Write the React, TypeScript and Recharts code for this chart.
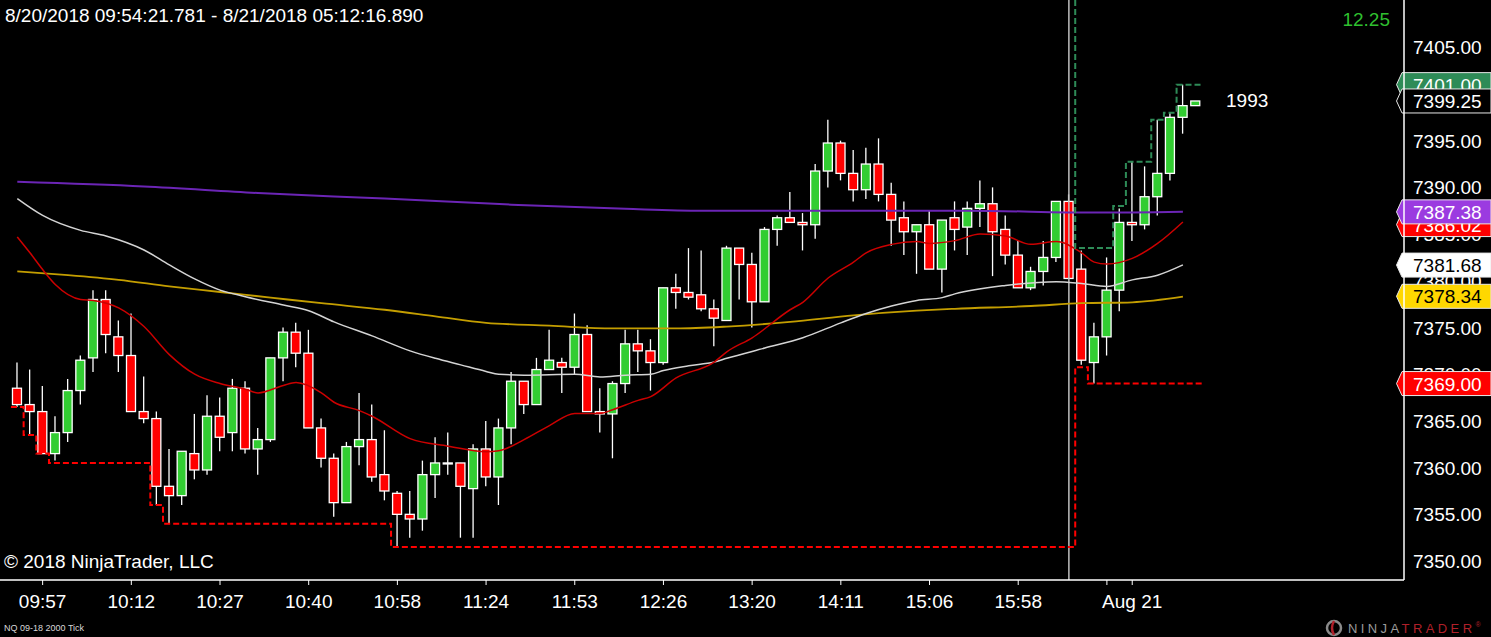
import React from "react";
import {
  ComposedChart,
  Bar,
  Line,
  XAxis,
  YAxis,
  ReferenceLine,
} from "recharts";

// NQ 09-18, 2000 tick bars — OHLC
const opens = [
  7368.5, 7366.75, 7366, 7361.5, 7363.75, 7368.25, 7371.75, 7378, 7374, 7372,
  7366, 7365.25, 7358, 7357, 7361.5, 7359.75, 7365.5, 7363.75, 7368.5, 7362,
  7363, 7371.75, 7374.5, 7372.25, 7364.25, 7361, 7356.25, 7362.25, 7363, 7359.25,
  7357.25, 7355, 7354.5, 7359.25, 7360.5, 7360.5, 7357.75, 7362, 7359, 7364.25,
  7369.25, 7366.75, 7370.5, 7371.25, 7370.75, 7374.25, 7366, 7365.75, 7369, 7373.25,
  7372.5, 7371.25, 7379.25, 7378.75, 7378.5, 7377, 7375.75, 7383.5, 7381.75, 7377.75,
  7385.5, 7386.75, 7386.25, 7386, 7391.75, 7394.75, 7391.5, 7389.75, 7392.5, 7389.25,
  7386.75, 7385.25, 7386, 7381.25, 7386.75, 7385.75, 7387.75, 7388.25, 7385.5, 7382.75,
  7379.25, 7381, 7382.5, 7388.5, 7381.25, 7371.25, 7374, 7379, 7386.25, 7386,
  7389, 7391.5, 7397.5, 7398.75,
];
const highs = [
  7371.25, 7370.5, 7368.75, 7365.5, 7369.5, 7372, 7379, 7379, 7375.75, 7376.5,
  7369.75, 7366, 7362, 7361.75, 7365.75, 7367.75, 7367.5, 7369.5, 7369.25, 7364.25,
  7371.75, 7375, 7375.5, 7374.75, 7365.25, 7361.5, 7362.75, 7368, 7366.75, 7364,
  7357.5, 7357.5, 7360.75, 7363.25, 7363.75, 7360.5, 7362.5, 7365, 7365.25, 7370.25,
  7369.25, 7371.75, 7374.75, 7371.75, 7376.5, 7375.25, 7368.5, 7369.25, 7374.75, 7374.75,
  7373.75, 7379.25, 7380.75, 7383.5, 7383.25, 7378, 7383.75, 7383.5, 7383, 7385.75,
  7387, 7389.5, 7387.25, 7392.5, 7397.25, 7395, 7394, 7394.25, 7395.25, 7390.5,
  7388.5, 7386, 7387.5, 7386.5, 7388.5, 7388.5, 7390.75, 7390, 7387, 7384.25,
  7381.5, 7384.25, 7388.5, 7389.25, 7383.25, 7375.5, 7382.5, 7387.75, 7392.75, 7392.25,
  7397.25, 7398, 7401, 7399.25,
];
const lows = [
  7366.5, 7363.5, 7361.5, 7360.75, 7362.75, 7366.75, 7370.25, 7372.25, 7370.25, 7366,
  7364.75, 7356, 7354, 7356, 7358.75, 7359.25, 7361.75, 7361.75, 7361.5, 7359.25,
  7362.75, 7369.25, 7370.75, 7364.25, 7360, 7354.75, 7356.25, 7360.25, 7358.5, 7356.5,
  7351.5, 7352.5, 7353.25, 7356.75, 7359.25, 7352.5, 7352.5, 7358, 7356, 7362.5,
  7365.75, 7366.75, 7370.5, 7368, 7370, 7366, 7363.75, 7361, 7368, 7370.25,
  7368.25, 7371, 7377, 7378, 7376.75, 7373, 7375.75, 7378, 7375, 7377.75,
  7383.75, 7386.25, 7383.25, 7384.5, 7390, 7390.75, 7388.5, 7388.75, 7388.5, 7383.75,
  7382.75, 7380.75, 7381.25, 7378.75, 7383.25, 7382.75, 7385.75, 7380.5, 7381.75, 7379.25,
  7379, 7379.5, 7382, 7380.25, 7371, 7369, 7372, 7376.75, 7384.25, 7385.5,
  7387, 7390.75, 7395.75, 7398.75,
];
const closes = [
  7366.75, 7366, 7361.5, 7363.75, 7368.25, 7371.5, 7378, 7374.25, 7372, 7366,
  7365.25, 7358, 7357, 7361.75, 7359.75, 7365.5, 7363.25, 7368.5, 7362, 7363,
  7371.75, 7374.5, 7372.25, 7364.25, 7361, 7356.25, 7362.25, 7363, 7359, 7357.5,
  7355, 7354.5, 7359.25, 7360.5, 7360.5, 7358, 7362, 7359, 7364.25, 7369.25,
  7366.75, 7370.5, 7371.5, 7370.75, 7374.25, 7366, 7365.75, 7369, 7373.25, 7372.5,
  7371.25, 7379.25, 7378.75, 7378.25, 7377, 7376, 7383.5, 7381.75, 7377.75, 7385.5,
  7386.75, 7386.25, 7386, 7391.75, 7394.75, 7391.5, 7389.75, 7392.5, 7389.25, 7386.5,
  7385.25, 7386, 7381.25, 7386.5, 7385.5, 7387.75, 7388.25, 7385.25, 7382.75, 7379.25,
  7381, 7382.5, 7388.5, 7380.25, 7371.5, 7374, 7379, 7386.25, 7386, 7389,
  7391.5, 7397.5, 7398.75, 7399.25,
];

// x-axis labels (bar index -> time)
const xTickIdx = [2, 9, 16, 23, 30, 37, 44, 51, 58, 65, 72, 79, 86, 88];
const xTickLabels = [
  "09:57", "10:12", "10:27", "10:40", "10:58", "11:24", "11:53",
  "12:26", "13:20", "14:11", "15:06", "15:58", "", "Aug 21",
];
const yTicks = [7350, 7355, 7360, 7365, 7370, 7375, 7380, 7385, 7390, 7395, 7400, 7405];

// moving averages, sampled at bar indices
const purpleIdx = [0, 10, 19, 29, 39, 48, 54, 64, 75, 85, 92];
const purpleVal = [7390.6, 7390.1, 7389.4, 7388.8, 7388.15, 7387.7, 7387.5, 7387.5, 7387.5, 7387.3, 7387.4];

const whiteIdx = [0, 2, 5, 7, 10, 12, 14, 16, 18, 21, 23, 25, 28, 31, 33, 35, 37, 38, 40, 44, 46, 48, 50, 51, 53, 55, 56, 59, 62, 65, 67, 69, 71, 73, 74, 78, 82, 84, 86, 88, 90, 92];
const whiteVal = [
  7388.8, 7387.0, 7385.4, 7384.8, 7383.3, 7381.7, 7380.2, 7379.0, 7378.3, 7377.4,
  7376.8, 7375.6, 7374.1, 7372.5, 7371.7, 7371.0, 7370.3, 7370.0, 7369.9, 7370.0,
  7369.7, 7369.9, 7370.0, 7370.4, 7370.9, 7371.3, 7371.7, 7372.8, 7373.9, 7375.5,
  7376.5, 7377.3, 7377.9, 7378.2, 7378.6, 7379.5, 7379.9, 7379.7, 7379.4, 7380.1,
  7380.6, 7381.7,
];

const redIdx = [0, 1, 2, 3, 5, 6, 8, 10, 12, 14, 16, 18, 19, 21, 22, 24, 25, 27, 28, 31, 34, 37, 38, 40, 42, 44, 46, 47, 49, 50, 52, 55, 56, 58, 61, 62, 64, 66, 67, 69, 71, 72, 74, 76, 78, 80, 82, 84, 85, 86, 88, 90, 92];
const redVal = [
  7384.7, 7383.0, 7381.2, 7379.6, 7378.0, 7377.9, 7377.1, 7375.1, 7372.1, 7370.0,
  7369.0, 7368.4, 7368.0, 7368.8, 7369.1, 7368.0, 7367.0, 7366.1, 7365.5, 7363.1,
  7362.3, 7361.7, 7361.8, 7363.0, 7364.5, 7365.8, 7365.8, 7366.2, 7367.2, 7367.6,
  7369.6, 7371.3, 7372.4, 7373.9, 7376.9, 7377.7, 7380.3, 7382.0, 7383.0, 7383.9,
  7384.2, 7384.0, 7384.3, 7385.0, 7384.8, 7383.9, 7384.2, 7383.0, 7382.0, 7381.8,
  7382.4, 7384.0, 7386.3,
];

const yellowIdx = [0, 4, 8, 12, 16, 20, 24, 29, 33, 37, 42, 47, 52, 56, 61, 66, 71, 74, 80, 84, 88, 92];
const yellowVal = [
  7381.0, 7380.6, 7380.1, 7379.4, 7378.8, 7378.2, 7377.6, 7376.9, 7376.2, 7375.5,
  7375.2, 7374.9, 7374.9, 7375.1, 7375.6, 7376.3, 7376.8, 7377.0, 7377.3, 7377.6,
  7377.7, 7378.3,
];

// trailing stops: bar index where each level starts
const redStopStart = [0, 1, 2, 3, 11, 12, 30, 84, 85];
const redStopLevel = [7366.5, 7363.5, 7361.5, 7360.5, 7356, 7354, 7351.5, 7370.75, 7369];
const greenStopStart = [84, 84, 87, 88, 90, 91, 92];
const greenStopLevel = [7412, 7383.5, 7388, 7392.75, 7397.25, 7398, 7401];

// price flags on the right axis
const flagValues = [7401, 7399.25, 7386.02, 7387.38, 7381.68, 7378.34, 7369];
const flagFills = ["#2e8b57", "#000000", "#ff0000", "#9b3be0", "#ffffff", "#ffd700", "#ff0000"];
const flagText = ["#ffffff", "#ffffff", "#ffffff", "#ffffff", "#000000", "#000000", "#ffffff"];

const W = 1491;
const H = 637;
const FONT = "Arial, 'Liberation Sans', sans-serif";
const GREEN = "#32cd32";
const RED = "#ff0000";

const candles = opens.map((o, i) => ({ i, o, h: highs[i], l: lows[i], c: closes[i] }));
const lastBar = opens.length - 1;
const toPts = (idx: number[], vals: number[]) => idx.map((i, k) => ({ i, v: vals[k] }));
const stepPts = (starts: number[], levels: number[]) => [
  ...starts.map((s, k) => ({ i: s - 0.5, v: levels[k] })),
  { i: lastBar + 0.5, v: levels[levels.length - 1] },
];

function Candle(props: any) {
  const { x, y, width, height, payload } = props;
  if (x == null || y == null || !payload) return null;
  const { o, h, l, c } = payload;
  const top = Math.min(y, y + height);
  const ratio = Math.abs(height) / (h - l);
  const py = (v: number) => top + (h - v) * ratio;
  const cx = x + width / 2;
  const bodyTop = py(Math.max(o, c));
  const bodyH = Math.max(py(Math.min(o, c)) - bodyTop, 1);
  const fill = o === c ? "#fff" : c > o ? GREEN : RED;
  return (
    <g>
      <line x1={cx} x2={cx} y1={py(h)} y2={py(l)} stroke="#fff" strokeWidth={1.3} />
      <rect x={cx - 4.5} y={bodyTop} width={9} height={bodyH} fill={fill} stroke="#fff" strokeWidth={1.3} />
    </g>
  );
}

// y tick text drawn as reference-line labels so the price flags can sit on top of it
function tickLabel(v: number) {
  return function TickText(props: any) {
    const vb = props.viewBox;
    if (!vb) return null;
    return (
      <text x={vb.x + vb.width + 9} y={vb.y + 7} fill="#fff" fontSize={19} fontFamily={FONT}>
        {v.toFixed(2)}
      </text>
    );
  };
}

function flagLabel(k: number) {
  return function Flag(props: any) {
    const vb = props.viewBox;
    if (!vb) return null;
    const xr = vb.x + vb.width;
    const y = vb.y;
    const pts = `${xr - 7.5},${y} ${xr - 2},${y - 12} ${W},${y - 12} ${W},${y + 12} ${xr - 2},${y + 12}`;
    return (
      <g>
        <polygon points={pts} fill={flagFills[k]} stroke="#e8e8e8" strokeWidth={1} />
        <text x={xr + 9} y={y + 7} fill={flagText[k]} fontSize={19} fontFamily={FONT}>
          {flagValues[k].toFixed(2)}
        </text>
      </g>
    );
  };
}

export default function App() {
  return (
    <div
      style={{
        position: "fixed",
        left: 0,
        top: 0,
        width: W,
        height: H,
        background: "#000",
        overflow: "hidden",
        fontFamily: FONT,
      }}
    >
      <ComposedChart width={W} height={H} data={candles} margin={{ top: 0, right: 0, bottom: 0, left: 0 }}>
        <XAxis
          dataKey="i"
          type="number"
          domain={[-1.365, 109.45]}
          allowDataOverflow
          ticks={xTickIdx}
          interval={0}
          tickFormatter={(v: number) => xTickLabels[xTickIdx.indexOf(v)] ?? ""}
          height={57}
          tickSize={5}
          tickMargin={10}
          axisLine={{ stroke: "#fff", strokeWidth: 1.5 }}
          tickLine={{ stroke: "#fff" }}
          tick={{ fill: "#fff", fontSize: 19, fontFamily: FONT }}
        />
        <YAxis
          orientation="right"
          type="number"
          domain={[7347.97, 7410.06]}
          allowDataOverflow
          ticks={yTicks}
          interval={0}
          width={87}
          tickSize={5}
          axisLine={{ stroke: "#fff", strokeWidth: 1.5 }}
          tickLine={{ stroke: "#fff" }}
          tick={false}
        />
        <ReferenceLine x={83} stroke="#c0c0c0" strokeWidth={1.5} />
        <Bar dataKey={(d: any) => [d.l, d.h]} barSize={9} shape={<Candle />} isAnimationActive={false} />
        <Line data={toPts(purpleIdx, purpleVal)} dataKey="v" type="monotone" stroke="#6b25b5" strokeWidth={2} dot={false} activeDot={false} isAnimationActive={false} />
        <Line data={toPts(yellowIdx, yellowVal)} dataKey="v" type="monotone" stroke="#c49e00" strokeWidth={1.8} dot={false} activeDot={false} isAnimationActive={false} />
        <Line data={toPts(whiteIdx, whiteVal)} dataKey="v" type="monotone" stroke="#d4d4d4" strokeWidth={1.5} dot={false} activeDot={false} isAnimationActive={false} />
        <Line data={toPts(redIdx, redVal)} dataKey="v" type="monotone" stroke="#cc0000" strokeWidth={1.5} dot={false} activeDot={false} isAnimationActive={false} />
        <Line data={stepPts(redStopStart, redStopLevel)} dataKey="v" type="stepAfter" stroke="#ff0000" strokeWidth={2} strokeDasharray="6 3" dot={false} activeDot={false} isAnimationActive={false} />
        <Line data={stepPts(greenStopStart, greenStopLevel)} dataKey="v" type="stepAfter" stroke="#2e8b57" strokeWidth={2} strokeDasharray="6 3" dot={false} activeDot={false} isAnimationActive={false} />
        {yTicks.map((v) => (
          <ReferenceLine key={`t${v}`} y={v} stroke="none" ifOverflow="visible" label={tickLabel(v)} />
        ))}
        {flagValues.map((v, k) => (
          <ReferenceLine key={`f${k}`} y={v} stroke="none" ifOverflow="visible" label={flagLabel(k)} />
        ))}
      </ComposedChart>

      <div style={{ position: "absolute", left: 5, top: 5, color: "#fff", fontSize: 19, lineHeight: "22px", whiteSpace: "nowrap" }}>
        8/20/2018 09:54:21.781 - 8/21/2018 05:12:16.890
      </div>
      <div style={{ position: "absolute", right: 101, top: 9, color: "#2fbf2f", fontSize: 19, lineHeight: "22px" }}>
        12.25
      </div>
      <div style={{ position: "absolute", left: 1226, top: 90, color: "#fff", fontSize: 19, lineHeight: "22px" }}>
        1993
      </div>
      <div style={{ position: "absolute", left: 4, top: 551, color: "#fff", fontSize: 19, lineHeight: "22px", whiteSpace: "nowrap" }}>
        © 2018 NinjaTrader, LLC
      </div>
      <div style={{ position: "absolute", left: 4, top: 622, color: "#d8d8d8", fontSize: 9, lineHeight: "12px", whiteSpace: "nowrap" }}>
        NQ 09-18 2000 Tick
      </div>
      <div style={{ position: "absolute", left: 1325, top: 619, height: 18, display: "flex", alignItems: "center", whiteSpace: "nowrap" }}>
        <svg width={20} height={18}>
          <circle cx={9} cy={9} r={7} fill="none" stroke="#8a8a8a" strokeWidth={2.5} />
          <path d="M9 2 Q5 9 9 16" fill="none" stroke="#b0202a" strokeWidth={2.5} />
        </svg>
        <span style={{ fontSize: 13, letterSpacing: 3.4, marginLeft: 3, color: "#9a9a9a" }}>
          NINJA<span style={{ color: "#b0202a" }}>TRADER</span>
          <span style={{ fontSize: 7, verticalAlign: "top", color: "#b0202a", letterSpacing: 0 }}>®</span>
        </span>
      </div>
    </div>
  );
}
